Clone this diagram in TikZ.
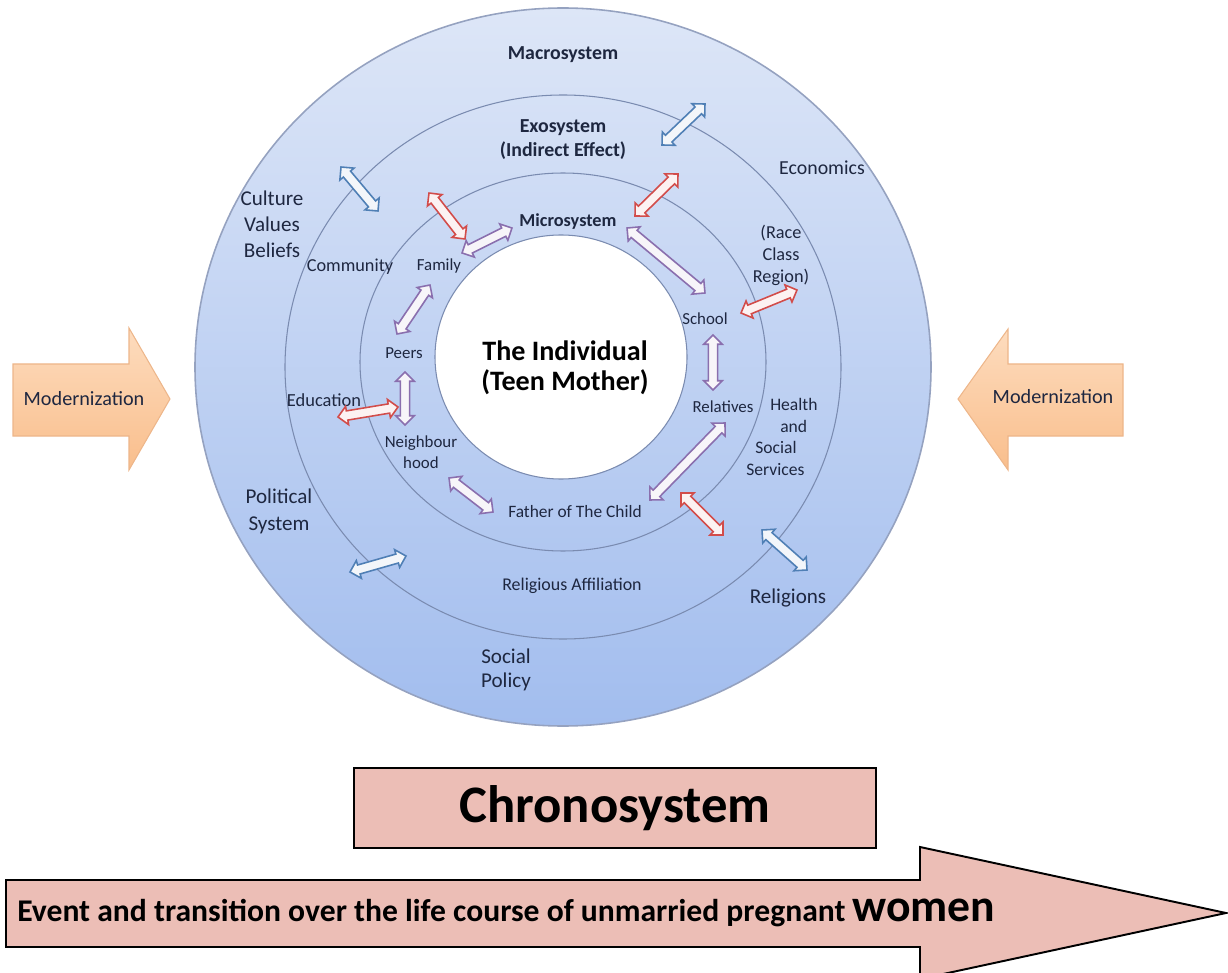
\documentclass[tikz,border=0pt]{standalone}
\usepackage{fontspec}
\setmainfont{Carlito}
\usetikzlibrary{calc,shapes.arrows}
\definecolor{ringtop}{HTML}{DDE6F7}
\definecolor{ringbot}{HTML}{A2BDEE}
\definecolor{ringline}{HTML}{7A8BB0}
\definecolor{labelc}{HTML}{1E2740}
\definecolor{redtie}{HTML}{D24C4A}
\definecolor{purpletie}{HTML}{8A6FAE}
\definecolor{bluetie}{HTML}{4F7FB5}
\definecolor{modtop}{HTML}{FDDCBE}
\definecolor{modbot}{HTML}{F9BE8C}
\definecolor{modline}{HTML}{EDB68A}
\definecolor{chronofill}{HTML}{ECBEB6}
\tikzset{
  twoway/.style={double arrow, line width=0.9pt, inner xsep=0pt, inner ysep=2.2pt,
    double arrow head extend=2.6pt, double arrow tip angle=90},
  lbl/.style={text=labelc, align=center, inner sep=0pt}
}
\newcommand\tie[3]{%
  \path let \p1=(#2), \p2=(#3),
    \n1={atan2(\y2-\y1,\x2-\x1)}, \n2={veclen(\x2-\x1,\y2-\y1)} in
    node[twoway, draw=#1, fill=#1!7, minimum height=\n2, rotate=\n1]
      at ($(#2)!0.5!(#3)$) {};}
\begin{document}
\begin{tikzpicture}[x=0.02cm,y=-0.02cm]
\useasboundingbox (0,0) rectangle (1228,973);

\draw[ringline!80, line width=0.9pt, top color=ringtop, bottom color=ringbot]
  (563,367) ellipse [x radius=368, y radius=359];
\draw[ringline, line width=0.6pt] (563,367) ellipse [x radius=278, y radius=272];
\draw[ringline, line width=0.6pt] (563,362) ellipse [x radius=203, y radius=189];
\draw[ringline, line width=0.6pt, fill=white] (561,357) ellipse [x radius=126, y radius=122];

\node[lbl, font=\fontsize{11.3}{13.6}\selectfont\bfseries] (macro) at (563,55) {Macrosystem};
\node[lbl, font=\fontsize{11.3}{13.6}\selectfont\bfseries] (exo) at (563,140) {Exosystem\\(Indirect Effect)};
\node[lbl, font=\fontsize{11.3}{13.6}\selectfont] (econ) at (822,168) {Economics};
\node[lbl, font=\fontsize{12}{14.7}\selectfont] (culture) at (272,224) {Culture\\Values\\Beliefs};
\node[lbl, font=\fontsize{10.4}{12}\selectfont] (community) at (350,267) {Community};
\node[lbl, font=\fontsize{9.6}{11}\selectfont] (family) at (439,266) {Family};
\node[lbl, font=\fontsize{10.4}{12}\selectfont\bfseries] (micro) at (568,222) {Microsystem};
\node[lbl, font=\fontsize{10.4}{12.5}\selectfont] (race) at (781,255) {(Race\\Class\\Region)};
\node[lbl, font=\fontsize{9.6}{11}\selectfont] (school) at (705,319) {School};
\node[lbl, font=\fontsize{9.6}{11}\selectfont] (peers) at (404,353) {Peers};
\node[lbl, text=black, font=\fontsize{16}{17}\selectfont\bfseries] (teen) at (565,368) {The Individual\\(Teen Mother)};
\node[lbl, font=\fontsize{10.5}{12}\selectfont] (edu) at (324,400) {Education};
\node[lbl, font=\fontsize{9.6}{11}\selectfont] (relatives) at (723,407) {Relatives};
\node[lbl, align=left, anchor=west, font=\fontsize{10}{12.3}\selectfont] (health) at (746,437)
  {\hspace*{13.6pt}Health\\\hspace*{19.3pt}and\\\hspace*{5.1pt}Social\\Services};
\node[lbl, font=\fontsize{9.6}{11.9}\selectfont] (neigh) at (421,452) {Neighbour\\hood};
\node[lbl, font=\fontsize{12}{15.3}\selectfont] (political) at (279,511) {Political\\System};
\node[lbl, font=\fontsize{9.9}{11}\selectfont] (father) at (575,512) {Father of The Child};
\node[lbl, font=\fontsize{10.2}{12}\selectfont] (relaff) at (572,586) {Religious Affiliation};
\node[lbl, font=\fontsize{12}{14}\selectfont] (religions) at (788,598) {Religions};
\node[lbl, font=\fontsize{12}{13.6}\selectfont] (policy) at (506,670) {Social\\Policy};

\coordinate (ecoA) at (662,145);  \coordinate (ecoB) at (705,104);
\coordinate (culA) at (341,167);  \coordinate (culB) at (378,211);
\coordinate (polA) at (350,572);  \coordinate (polB) at (406,556);
\coordinate (relgA) at (762,530); \coordinate (relgB) at (807,570);
\coordinate (comA) at (429,193);  \coordinate (comB) at (465,239);
\coordinate (exoA) at (635,216);  \coordinate (exoB) at (678,174);
\coordinate (raceA) at (741,313); \coordinate (raceB) at (797,290);
\coordinate (eduA) at (338,417);  \coordinate (eduB) at (398,407);
\coordinate (hsA) at (681,493);   \coordinate (hsB) at (723,535);
\coordinate (famA) at (462,253);  \coordinate (famB) at (512,228);
\coordinate (micA) at (627,228);  \coordinate (micB) at (705,293);
\coordinate (peerA) at (397,334); \coordinate (peerB) at (430,285);
\coordinate (nbA) at (405,372);   \coordinate (nbB) at (405,425);
\coordinate (schA) at (713,335);  \coordinate (schB) at (713,390);
\coordinate (kinA) at (725,423);  \coordinate (kinB) at (650,500);
\coordinate (dadA) at (449,478);  \coordinate (dadB) at (493,512);

\tie{bluetie}{ecoA}{ecoB}
\tie{bluetie}{culA}{culB}
\tie{bluetie}{polA}{polB}
\tie{bluetie}{relgA}{relgB}
\tie{redtie}{comA}{comB}
\tie{redtie}{exoA}{exoB}
\tie{redtie}{raceA}{raceB}
\tie{redtie}{eduA}{eduB}
\tie{redtie}{hsA}{hsB}
\tie{purpletie}{famA}{famB}
\tie{purpletie}{micA}{micB}
\tie{purpletie}{peerA}{peerB}
\tie{purpletie}{nbA}{nbB}
\tie{purpletie}{schA}{schB}
\tie{purpletie}{kinA}{kinB}
\tie{purpletie}{dadA}{dadB}

\draw[modline, line width=0.6pt, top color=modtop, bottom color=modbot]
  (13,364) -- (129,364) -- (129,328) -- (170,399) -- (129,470) -- (129,436) -- (13,436) -- cycle;
\node[lbl, font=\fontsize{11.5}{13}\selectfont] (modl) at (84,399) {Modernization};
\draw[modline, line width=0.6pt, top color=modtop, bottom color=modbot]
  (1123,364) -- (1008,364) -- (1008,329) -- (958,399) -- (1008,470) -- (1008,436) -- (1123,436) -- cycle;
\node[lbl, font=\fontsize{11.5}{13}\selectfont] (modr) at (1053,397) {Modernization};

\node[draw=black, line width=1.1pt, fill=chronofill, minimum width=10.44cm, minimum height=1.6cm,
  font=\fontsize{30}{32}\selectfont\bfseries] (chrono) at (615,808) {Chronosystem};
\draw[black, line width=1.1pt, fill=chronofill]
  (6,880) -- (920,880) -- (920,847) -- (1226,913) -- (920,979) -- (920,947) -- (6,947) -- cycle;
\node[anchor=west, inner sep=0pt, font=\fontsize{18}{20}\selectfont\bfseries] (event) at (17,913)
  {Event and transition over the life course of unmarried pregnant {\fontsize{26}{28}\selectfont women}};
\end{tikzpicture}
\end{document}
